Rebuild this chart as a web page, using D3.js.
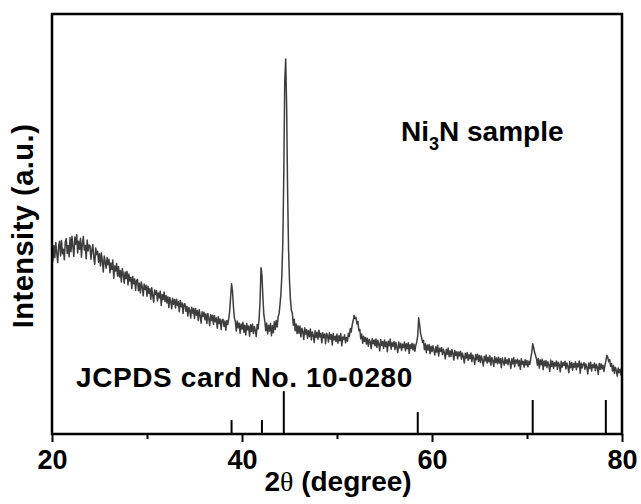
<!DOCTYPE html>
<html>
<head>
<meta charset="utf-8">
<script src="https://d3js.org/d3.v7.min.js"></script>
<style>
  html, body { margin: 0; padding: 0; background: #fff; }
  svg { display: block; }
  text { font-family: "Liberation Sans", Arial, sans-serif; font-weight: bold; fill: #000; }
</style>
</head>
<body>
<svg id="chart"></svg>
<script>
const WIDTH = 641
const HEIGHT = 504
const margin = { top: 14, right: 19, bottom: 70, left: 52 }

// XRD scan, 2theta from 20 to 80 deg, 0.1 deg step (one row = 1 deg)
const scanStart = 20
const scanStep = 0.1
const intensity = [
  43.5, 41.2, 44.9, 42.0, 45.6, 43.1, 40.8, 44.7, 45.9, 42.4,
  46.1, 42.9, 44.0, 41.5, 45.8, 46.5, 43.0, 44.9, 42.2, 46.8,
  43.4, 47.1, 44.6, 42.3, 46.9, 45.2, 47.5, 43.1, 45.9, 44.0,
  46.6, 42.1, 45.4, 47.0, 43.8, 44.9, 41.7, 46.2, 43.6, 45.0,
  44.8, 41.6, 43.9, 45.1, 42.0, 40.4, 44.3, 42.7, 43.5, 40.9,
  42.9, 40.0, 43.1, 41.2, 38.6, 42.4, 40.9, 39.5, 42.0, 40.3,
  41.6, 38.4, 40.7, 39.2, 41.4, 37.1, 40.0, 38.8, 40.6, 37.6,
  39.9, 37.4, 38.9, 36.2, 39.4, 38.0, 35.9, 38.6, 37.0, 38.7,
  35.5, 38.1, 36.4, 37.3, 34.6, 37.5, 35.8, 36.9, 34.2, 36.6,
  36.8, 34.1, 35.9, 33.6, 36.2, 35.0, 32.9, 35.7, 34.4, 35.4,
  32.8, 35.2, 33.5, 34.6, 32.1, 34.8, 33.0, 31.4, 34.3, 33.2,
  34.1, 31.7, 33.6, 32.4, 34.0, 30.6, 33.2, 32.0, 33.8, 31.5,
  33.0, 31.2, 32.7, 30.1, 32.5, 31.6, 29.8, 32.3, 30.9, 32.0,
  30.0, 32.1, 30.6, 31.5, 29.1, 31.8, 30.3, 31.2, 28.7, 30.9,
  31.0, 29.2, 30.4, 28.1, 30.1, 29.5, 27.6, 30.2, 28.8, 29.9,
  27.5, 29.9, 28.3, 29.4, 27.0, 29.6, 28.1, 26.4, 29.1, 28.0,
  29.0, 27.2, 28.6, 26.3, 28.7, 27.5, 25.8, 28.4, 27.0, 28.3,
  26.1, 28.2, 26.7, 27.6, 25.2, 27.9, 26.3, 27.4, 24.9, 27.1,
  27.3, 25.6, 26.9, 24.7, 27.0, 26.1, 27.4, 29.2, 32.5, 35.8,
  34.0, 30.3, 27.6, 26.8, 24.5, 26.9, 25.3, 26.4, 24.0, 26.2,
  25.0, 26.6, 24.2, 25.9, 23.6, 26.3, 24.8, 25.7, 23.3, 26.0,
  24.4, 26.2, 23.9, 25.6, 24.7, 23.2, 26.1, 25.0, 27.4, 31.5,
  39.6, 37.8, 32.5, 28.4, 26.9, 24.6, 26.4, 23.8, 25.9, 24.5,
  26.3, 23.4, 25.8, 24.1, 26.7, 24.9, 27.0, 25.5, 27.9, 28.6,
  30.8, 33.5, 38.0, 46.0, 62.0, 84.0, 89.3, 78.0, 58.0, 44.0,
  36.5, 32.0, 29.4, 28.8, 25.9, 27.3, 24.6, 26.2, 23.9, 25.8,
  24.0, 25.7, 23.1, 25.2, 24.4, 22.5, 25.3, 23.8, 24.9, 22.8,
  24.6, 23.2, 25.0, 22.4, 24.3, 23.5, 21.8, 24.6, 23.0, 24.2,
  22.6, 24.7, 23.1, 24.0, 21.7, 24.1, 22.9, 23.8, 21.5, 24.0,
  23.5, 21.9, 24.1, 22.6, 23.7, 21.2, 23.9, 22.4, 23.3, 22.0,
  23.8, 21.6, 23.4, 22.2, 23.9, 21.0, 23.1, 22.5, 23.6, 21.7,
  23.0, 22.1, 24.0, 23.2, 25.1, 24.3, 26.0, 26.9, 28.2, 27.5,
  27.8, 26.2, 26.8, 24.6, 24.9, 22.7, 23.8, 21.6, 23.3, 22.0,
  23.0, 21.4, 22.8, 20.9, 22.5, 21.9, 20.3, 22.7, 21.5, 22.4,
  21.0, 22.6, 20.6, 22.3, 21.4, 19.8, 22.5, 21.1, 22.0, 20.4,
  22.4, 20.8, 21.9, 19.6, 22.1, 21.0, 22.6, 20.2, 21.7, 20.9,
  22.0, 20.1, 21.8, 20.7, 19.4, 21.9, 20.5, 21.6, 19.9, 21.4,
  20.6, 21.9, 19.8, 21.5, 20.3, 21.7, 19.2, 21.3, 20.4, 21.6,
  20.0, 21.4, 19.7, 21.2, 21.9, 23.5, 27.7, 26.0, 23.9, 23.0,
  21.8, 22.3, 20.1, 21.5, 19.4, 21.2, 20.0, 21.3, 19.1, 20.9,
  19.6, 21.0, 19.9, 18.8, 20.8, 19.5, 21.1, 18.6, 20.4, 19.7,
  20.6, 18.9, 20.2, 19.3, 17.9, 20.1, 19.0, 20.5, 18.4, 19.8,
  18.5, 20.1, 19.2, 17.6, 19.9, 18.7, 19.6, 17.9, 19.5, 18.6,
  19.7, 17.8, 19.3, 18.4, 16.9, 19.2, 18.1, 19.4, 17.5, 18.9,
  17.9, 19.3, 17.2, 18.8, 18.0, 16.6, 18.9, 17.7, 19.0, 17.3,
  18.7, 17.0, 18.6, 17.6, 16.2, 18.5, 17.4, 18.8, 16.9, 18.3,
  17.2, 18.6, 16.4, 18.2, 17.5, 16.1, 18.4, 17.0, 18.1, 16.7,
  18.3, 16.9, 17.9, 15.8, 18.1, 17.2, 16.4, 18.2, 16.8, 17.7,
  16.5, 18.0, 17.1, 15.6, 17.9, 16.7, 18.2, 16.0, 17.6, 16.9,
  17.8, 16.2, 17.5, 15.4, 17.9, 16.6, 17.3, 15.9, 17.7, 16.4,
  17.5, 16.0, 17.3, 16.6, 18.1, 19.3, 21.5, 20.6, 19.4, 18.7,
  17.9, 16.4, 18.0, 15.7, 17.6, 16.5, 17.8, 15.3, 17.4, 16.2,
  17.5, 15.8, 17.2, 16.4, 14.9, 17.6, 16.1, 17.3, 15.6, 17.0,
  16.2, 17.4, 15.4, 17.1, 16.5, 14.8, 17.3, 15.9, 17.0, 16.3,
  17.3, 15.5, 16.9, 16.1, 14.6, 17.2, 15.8, 17.0, 15.2, 16.8,
  15.9, 17.2, 15.3, 16.8, 16.0, 17.4, 14.5, 16.9, 15.7, 16.6,
  17.0, 15.4, 16.7, 15.9, 14.3, 16.9, 15.6, 17.1, 15.0, 16.5,
  15.8, 16.9, 15.1, 16.6, 15.9, 14.2, 16.8, 15.4, 16.7, 15.5,
  16.4, 14.9, 16.3, 17.4, 18.7, 18.3, 17.2, 17.7, 16.1, 16.8,
  15.0, 16.3, 14.4, 15.9, 15.2, 13.8, 15.7, 14.6, 15.4, 14.0,
  15.0
]

// JCPDS card No. 10-0280 reference lines
const cardAngles = [38.9, 42.1, 44.4, 58.5, 70.6, 78.3]
const cardIntensity = [3.3, 3.3, 10.2, 5.2, 8.1, 8.1]

const majorTicks = [20, 40, 60, 80]
const minorTicks = [30, 50, 70]

const svg = d3.select('#chart')
  .attr('width', WIDTH)
  .attr('height', HEIGHT)

const x = d3.scaleLinear()
  .domain([20, 80])
  .range([margin.left, WIDTH - margin.right])
const y = d3.scaleLinear()
  .domain([0, 100])
  .range([HEIGHT - margin.bottom, margin.top])

const scan = intensity.map((v, i) => [scanStart + i * scanStep, v])

// pattern
svg.append('path')
  .datum(scan)
  .attr('fill', 'none')
  .attr('stroke', '#3d3d3d')
  .attr('stroke-width', 1.5)
  .attr('stroke-linejoin', 'round')
  .attr('d', d3.line().x(d => x(d[0])).y(d => y(d[1])))

// reference sticks
svg.append('g')
  .selectAll('line')
  .data(cardAngles)
  .join('line')
  .attr('x1', d => x(d))
  .attr('x2', d => x(d))
  .attr('y1', y(0))
  .attr('y2', (d, i) => y(cardIntensity[i]))
  .attr('stroke', '#000')
  .attr('stroke-width', 2)

// bottom axis with outward ticks
const xAxis = svg.append('g')
  .attr('transform', `translate(0,${y(0)})`)
  .call(d3.axisBottom(x).tickValues(majorTicks).tickSize(8).tickPadding(8).tickFormat(d3.format('d')))
xAxis.select('.domain').remove()
xAxis.selectAll('.tick line').attr('stroke', '#000').attr('stroke-width', 2)
xAxis.selectAll('.tick text')
  .style('font-size', '27px')
  .style('font-family', '"Liberation Sans", Arial, sans-serif')
  .style('font-weight', 'bold')
  .attr('fill', '#000')

svg.append('g')
  .attr('transform', `translate(0,${y(0)})`)
  .call(d3.axisBottom(x).tickValues(minorTicks).tickSize(5).tickFormat(''))
  .call(g => g.select('.domain').remove())
  .selectAll('.tick line').attr('stroke', '#000').attr('stroke-width', 2)

// frame
svg.append('rect')
  .attr('x', x(20))
  .attr('y', y(100))
  .attr('width', x(80) - x(20))
  .attr('height', y(0) - y(100))
  .attr('fill', 'none')
  .attr('stroke', '#000')
  .attr('stroke-width', 2.5)

// labels
svg.append('text')
  .attr('x', 338)
  .attr('y', 491)
  .attr('text-anchor', 'middle')
  .style('font-size', '28px')
  .call(t => {
    t.append('tspan').text('2')
    t.append('tspan').text('θ').style('font-family', '"Liberation Serif", "Times New Roman", serif').style('font-weight', 'normal')
    t.append('tspan').text(' (degree)')
  })

svg.append('text')
  .attr('transform', 'translate(33,226) rotate(-90)')
  .attr('text-anchor', 'middle')
  .style('font-size', '29px')
  .style('letter-spacing', '0.5px')
  .text('Intensity (a.u.)')

svg.append('text')
  .attr('x', 401)
  .attr('y', 141)
  .style('font-size', '28px')
  .call(t => {
    t.append('tspan').text('Ni')
    t.append('tspan').text('3').attr('dy', 9).style('font-size', '18px')
    t.append('tspan').text('N sample').attr('dy', -9)
  })

svg.append('text')
  .attr('x', 76)
  .attr('y', 387)
  .style('font-size', '28px')
  .style('letter-spacing', '0.6px')
  .text('JCPDS card No. 10-0280')
</script>
</body>
</html>
